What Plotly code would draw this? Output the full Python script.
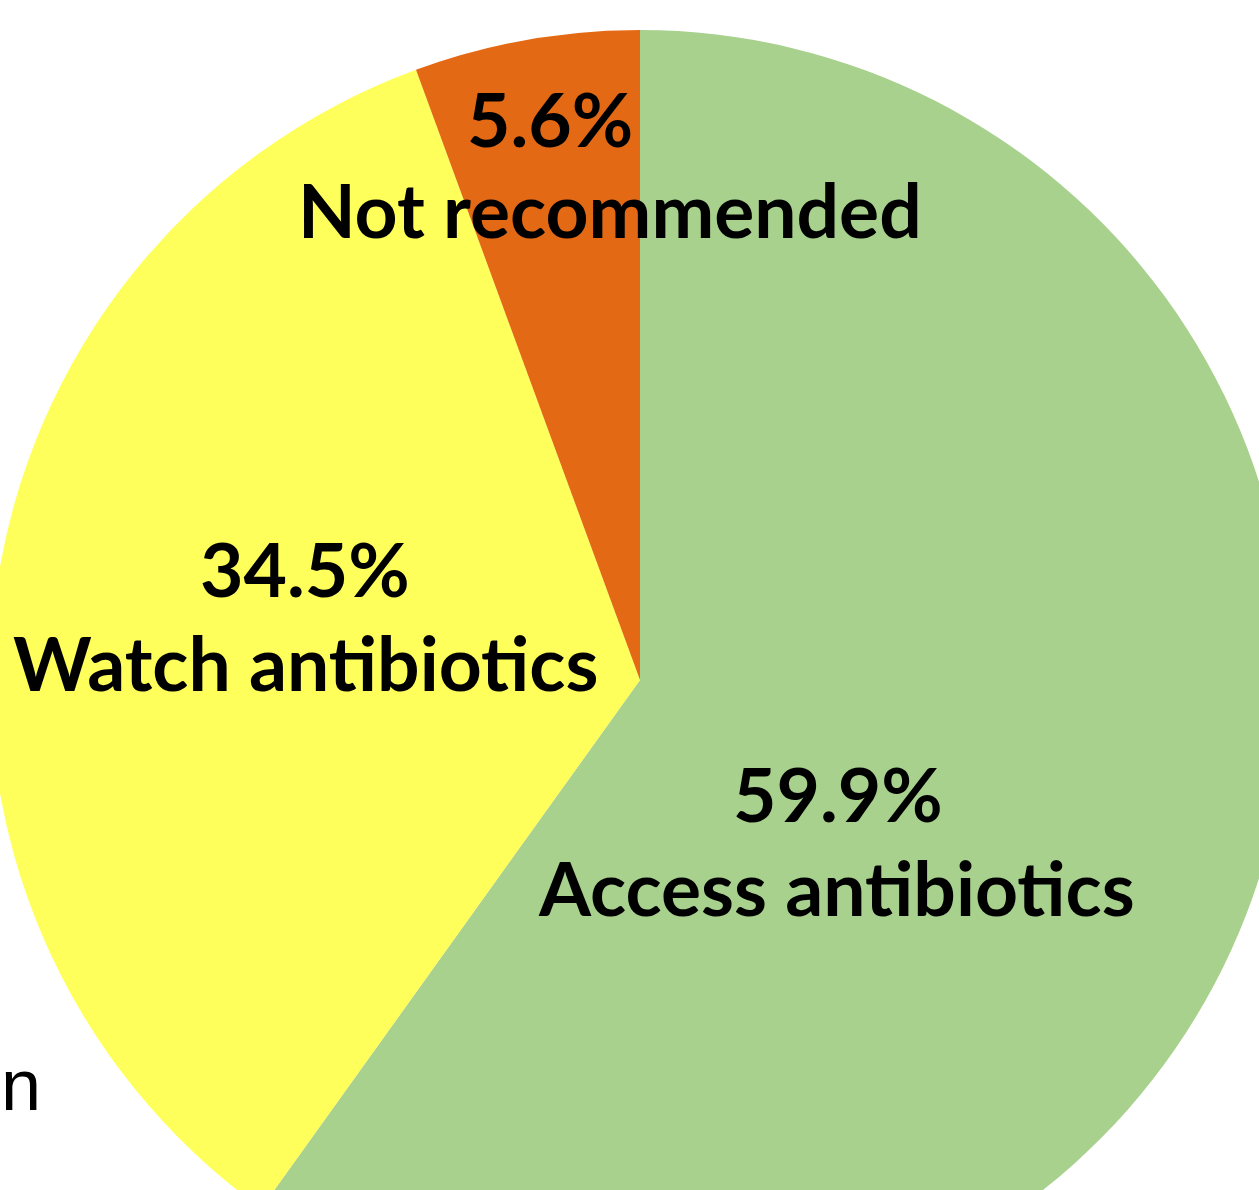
import plotly.graph_objects as go

# ---- data ----
categories = ["Access antibiotics", "Watch antibiotics", "Not recommended"]
shares = [59.9, 34.5, 5.6]
colors = ["#A9D18E", "#FFFF5B", "#E46914"]

# ---- geometry (figure larger than window, shifted so the pie is cropped like the reference) ----
FIG_W, FIG_H = 1300, 1300
SHIFT_X, SHIFT_Y = -10, 30   # page offset of the figure div


def paper(px, py):
    """convert page pixel position to paper coordinates"""
    fx = px - SHIFT_X
    fy = py - SHIFT_Y
    return fx / FIG_W, 1 - fy / FIG_H


fig = go.Figure(
    go.Pie(
        labels=categories,
        values=shares,
        marker=dict(colors=colors, line=dict(width=0)),
        sort=False,
        direction="clockwise",
        rotation=0,
        textinfo="none",
        hoverinfo="skip",
        domain=dict(x=[0, 1], y=[0, 1]),
        showlegend=False,
    )
)

label_font = dict(family="Lato", size=75, color="black", weight="bold")
# (percentage line centre, name line centre) in page pixels, per category
label_pos = {
    "Access antibiotics": ((838, 793), (836, 887)),
    "Watch antibiotics": ((305, 568), (305, 662)),
    "Not recommended": ((550, 118), (610, 209)),
}
for cat, val in zip(categories, shares):
    (p1, p2) = label_pos[cat]
    for txt, (px, py) in ((f"{val}%", p1), (cat, p2)):
        x, y = paper(px, py)
        fig.add_annotation(
            x=x, y=y, xref="paper", yref="paper", text=txt, showarrow=False,
            xanchor="center", yanchor="middle", font=label_font,
        )

nx, ny = paper(0, 1085)
fig.add_annotation(
    x=nx, y=ny, xref="paper", yref="paper", text="n", showarrow=False,
    xanchor="left", yanchor="middle", borderpad=0,
    font=dict(family="Liberation Sans", size=72, color="black"),
)

fig.update_layout(
    width=FIG_W, height=FIG_H,
    margin=dict(l=0, r=0, t=0, b=0),
    paper_bgcolor="white", plot_bgcolor="white",
)

post = (
    "var gd=document.getElementById('{plot_id}');"
    "document.documentElement.style.overflow='hidden';"
    "document.body.style.margin='0';document.body.style.overflow='hidden';"
    "gd.style.position='absolute';"
    f"gd.style.left='{SHIFT_X}px';gd.style.top='{SHIFT_Y}px';"
)

fig.write_html("out.html", config=dict(displayModeBar=False), post_script=post)
